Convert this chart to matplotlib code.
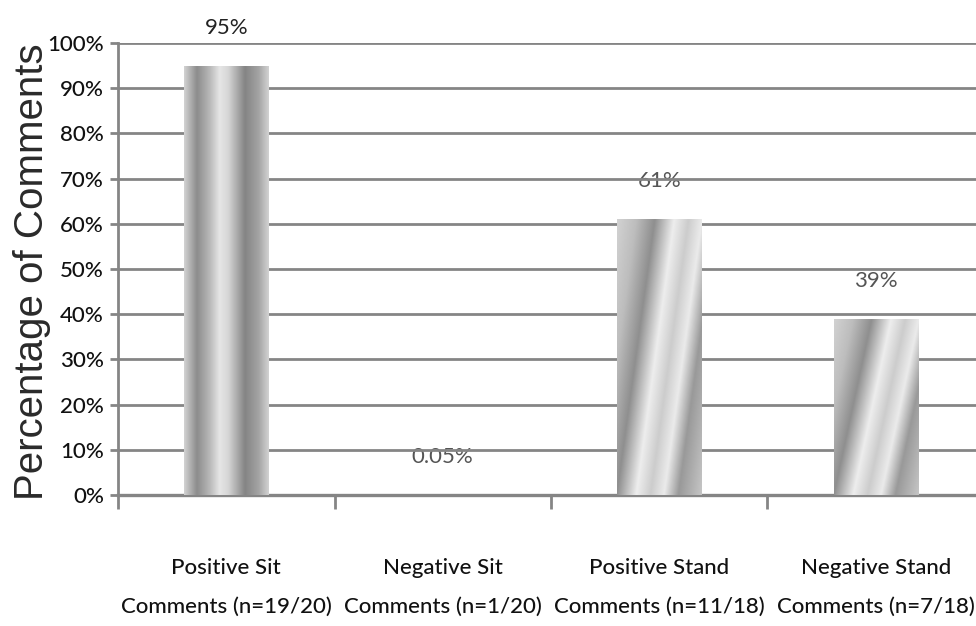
import numpy as np
import matplotlib
matplotlib.use("Agg")
import matplotlib.pyplot as plt
from matplotlib.ticker import FixedLocator, FuncFormatter

# Share of comments per category (percent)
categories = [
    "Positive Sit\nComments (n=19/20)",
    "Negative Sit\nComments (n=1/20)",
    "Positive Stand\nComments (n=11/18)",
    "Negative Stand\nComments (n=7/18)",
]
values = [95, 0.05, 61, 39]
value_labels = ["95%", "0.05%", "61%", "39%"]
shading = ["vertical", "vertical", "diagonal", "diagonal"]
y_ticks = list(range(0, 101, 10))

NARROW = ["Lato", "DejaVu Sans"]
GRID = "#858585"

fig = plt.figure(figsize=(9.76, 6.26), dpi=100)
ax = fig.add_axes([118 / 976, 131 / 626, 866 / 976, 452 / 626])

x = np.arange(len(values)) + 0.5
bars = ax.bar(x, values, width=0.39, color="#b0b0b0", edgecolor="none", zorder=3)


def shade(kind, nx=120, ny=240):
    u = np.linspace(0, 1, nx)[None, :]
    v = np.linspace(0, 1, ny)[:, None]
    if kind == "vertical":
        t = np.broadcast_to(u, (ny, nx))
        pts = [0.0, 0.15, 0.30, 0.42, 0.52, 0.72, 0.88, 1.0]
        lum = [0.82, 0.55, 0.72, 0.90, 0.84, 0.52, 0.64, 0.82]
    else:
        t = u - 0.45 * (v - 0.5)
        pts = [-0.3, 0.0, 0.22, 0.45, 0.62, 0.78, 0.95, 1.3]
        lum = [0.85, 0.74, 0.56, 0.93, 0.80, 0.92, 0.60, 0.82]
    return np.interp(t, pts, lum)


for rect, kind in zip(bars, shading):
    x0 = rect.get_x()
    x1 = x0 + rect.get_width()
    h = rect.get_height()
    im = ax.imshow(shade(kind), cmap="gray", vmin=0, vmax=1,
                   extent=(x0, x1, 0, h), origin="lower", aspect="auto",
                   interpolation="bilinear", zorder=4)
    im.set_clip_path(rect)

# Value labels above each bar
for xi, val, lab in zip(x, values, value_labels):
    ax.annotate(lab, (xi, val), xytext=(0, 38), textcoords="offset pixels",
                ha="center", va="center", fontsize=16,
                family=NARROW, color="#222222" if val > 90 else "#555555",
                zorder=0.5)

ax.set_xlim(0, 4)
ax.set_ylim(0, 100)

# Y axis
ax.yaxis.set_major_locator(FixedLocator(y_ticks))
ax.yaxis.set_major_formatter(FuncFormatter(lambda v, p: f"{int(v)}%"))
ax.tick_params(axis="y", length=6, width=2, color=GRID, pad=4,
               labelsize=16)
for lab in ax.get_yticklabels():
    lab.set_family(NARROW)
    lab.set_color("#111111")
    lab.set_weight("medium")
ax.yaxis.grid(True, color=GRID, linewidth=2.0, zorder=1)
ax.set_axisbelow(True)

# X axis: boundary ticks, centred category labels
ax.set_xticks(x)
ax.set_xticklabels(categories, family=NARROW, fontsize=16, weight="medium",
                   linespacing=2.2, color="#111111")
ax.set_xticks(np.arange(0, 5), minor=True)
ax.tick_params(axis="x", which="major", length=0, pad=45)
ax.tick_params(axis="x", which="minor", length=10, width=2, color=GRID)

for side in ("top", "right"):
    ax.spines[side].set_visible(False)
ax.spines["left"].set_color(GRID)
ax.spines["left"].set_linewidth(2.0)
ax.spines["bottom"].set_color(GRID)
ax.spines["bottom"].set_linewidth(2.4)

fig.text(32 / 976, 1 - 272 / 626, "Percentage of Comments", rotation=90,
         ha="center", va="center", fontsize=29,
         family=["Liberation Sans", "DejaVu Sans"], color="#2a2a2a")

fig.savefig("out.png", dpi=100)
